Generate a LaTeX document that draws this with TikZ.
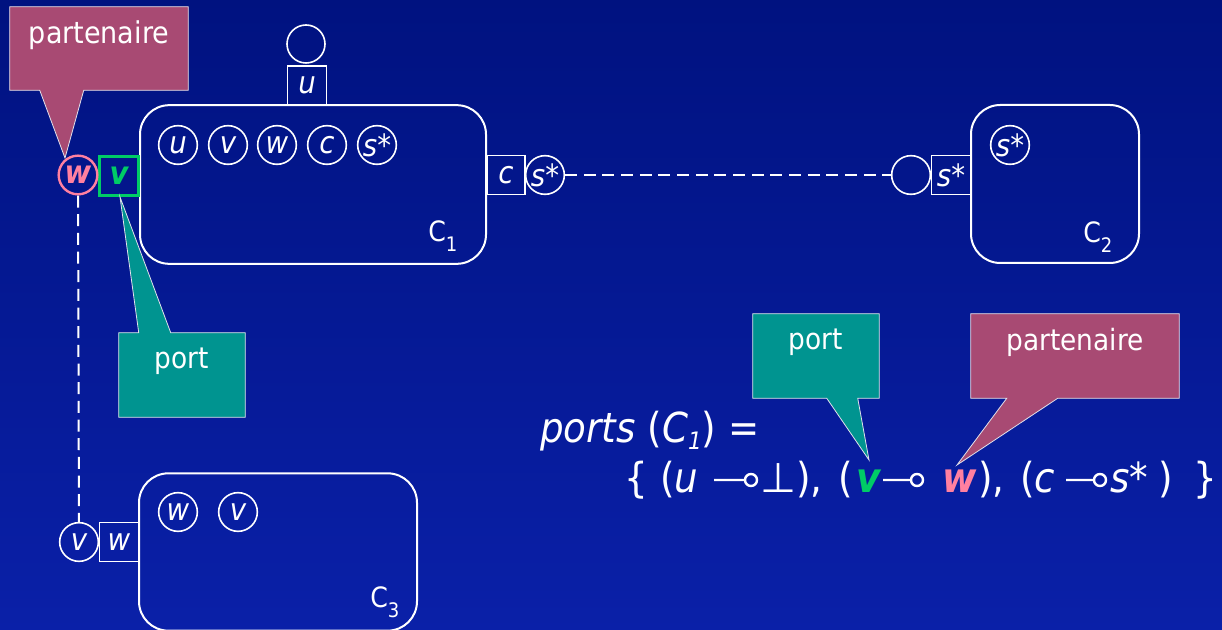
\documentclass[tikz,border=0pt]{standalone}
\usepackage{fontspec}
\setmainfont{DejaVu Sans Condensed}
\newfontfamily\symfont{DejaVu Sans}
\usetikzlibrary{calc}
\definecolor{bgtop}{RGB}{0,18,128}
\definecolor{bgbot}{RGB}{10,32,168}
\definecolor{mauve}{RGB}{168,74,115}
\definecolor{tealc}{RGB}{0,148,144}
\definecolor{pinkc}{RGB}{255,128,160}
\definecolor{greenc}{RGB}{0,204,102}
\definecolor{edgec}{RGB}{225,225,235}
\begin{document}
\begin{tikzpicture}[x=0.75pt,y=-0.75pt,
  comp/.style={draw=white,line width=1.5pt,rounded corners=22pt,inner sep=0pt},
  pcirc/.style={circle,draw=white,line width=1.2pt,minimum size=29pt,inner sep=0pt,text=white,font=\fontsize{23}{23}\selectfont\itshape},
  psq/.style={rectangle,draw=white,line width=1.2pt,minimum width=29pt,minimum height=29.5pt,inner sep=0pt,text=white,font=\fontsize{23}{23}\selectfont\itshape},
  clabel/.style={anchor=base west,text=white,inner sep=0pt,font=\fontsize{21}{21}\selectfont},
  callout/.style={draw=edgec,line width=0.6pt,line join=miter},
  ctext/.style={text=white,inner sep=0pt,font=\fontsize{22}{22}\selectfont},
  ftext/.style={anchor=base west,text=white,inner sep=0pt,font=\fontsize{31}{31}\selectfont},
  mm/.style={draw=white,line width=1.8pt},
  link/.style={draw=white,line width=1.5pt,dash pattern=on 9pt off 5pt}]
\shade[top color=bgtop,bottom color=bgbot] (0,0) rectangle (1222,630);
\useasboundingbox (0,0) rectangle (1222,630);

% components
\node[comp,minimum width=259.5pt,minimum height=119pt] (C1) at (313,184.5) {};
\node[comp,minimum width=126pt,minimum height=118.5pt] (C2) at (1055,184) {};
\node[comp,minimum width=208.5pt,minimum height=118pt] (C3) at (278,552) {};

\node[clabel] (L1) at (428,242) {C\raisebox{-7pt}{\fontsize{15}{15}\selectfont 1}};
\node[clabel] (L2) at (1083,243) {C\raisebox{-7pt}{\fontsize{15}{15}\selectfont 2}};
\node[clabel] (L3) at (370,608) {C\raisebox{-7pt}{\fontsize{15}{15}\selectfont 3}};

% inner services of C1
\node[pcirc] (iu) at (178,145) {u};
\node[pcirc] (iv) at (228,145) {v};
\node[pcirc] (iw) at (277,145) {w};
\node[pcirc] (ic) at (327,145) {c};
\node[pcirc] (is) at (377,145) {s*};
% C2 inner
\node[pcirc] (is2) at (1010,145) {s*};
% C3 inner
\node[pcirc] (iw3) at (178,512) {w};
\node[pcirc] (iv3) at (238,512) {v};

% ports of C1
\node[psq] (pu) at (307,85.5) {u};
\node[pcirc,minimum size=28.5pt] (ou) at (306,44) {};
\node[psq,minimum width=28.5pt] (pc) at (506,175) {c};
\node[pcirc] (os) at (545,175) {s*};
\node[psq,draw=greenc,line width=1.8pt,text=greenc,font=\fontsize{24}{24}\selectfont\bfseries\itshape] (pv) at (119,176) {v};
\node[pcirc,draw=pinkc,line width=1.8pt,text=pinkc,font=\fontsize{24}{24}\selectfont\bfseries\itshape] (ow) at (78,175) {w};
% ports of C2
\node[psq] (ps2) at (951,175) {s*};
\node[pcirc] (oe2) at (911,175) {};
% ports of C3
\node[psq] (pw3) at (119,542) {w};
\node[pcirc] (ov3) at (79,542) {v};

% bindings
\draw[link] (os) -- (oe2);
\draw[link] (ow) -- (ov3);

% callout partenaire (top left)
\node[rectangle,minimum width=133.5pt,minimum height=62.25pt,inner sep=0pt] (cbA) at (99,48.5) {};
\coordinate (tipA) at (65,158);
\draw[callout,fill=mauve] (cbA.north west) -- (cbA.north east) -- (cbA.south east) -- ($(cbA.south west)+(74,0)$) -- (tipA) -- ($(cbA.south west)+(30,0)$) -- (cbA.south west) -- cycle;
\node[ctext,font=\fontsize{22.5}{22.5}\selectfont] (tA) at (99,35) {partenaire};

% callout port (left)
\node[rectangle,minimum width=94.5pt,minimum height=63pt,inner sep=0pt] (cbB) at (182,375) {};
\coordinate (tipB) at (120,197);
\draw[callout,fill=tealc] (cbB.north west) -- ($(cbB.north west)+(20,0)$) -- (tipB) -- ($(cbB.north west)+(52,0)$) -- (cbB.north east) -- (cbB.south east) -- (cbB.south west) -- cycle;
\node[ctext] (tB) at (182,361) {port};

% formula, line 1
\node[ftext] (f1) at (540,443) {\itshape ports\/\upshape{} (\itshape C\raisebox{-5pt}{\fontsize{18}{18}\selectfont 1}\/\upshape) =};
% formula, line 2
\node[ftext] (g1) at (624,493) {\{};
\node[ftext] (g2) at (660,493) {(\itshape u};
\coordinate (m1a) at (714,480); \coordinate (m1b) at (745,480);
\draw[mm] (m1a) -- (m1b) (751,480) circle[radius=4.5pt];
\node[ftext] (g3) at (760,493) {\symfont ⊥};
\node[ftext] (g4) at (796,493) {),};
\node[ftext] (g5) at (838,493) {(};
\node[ftext,text=greenc,font=\fontsize{31}{31}\selectfont\bfseries\itshape] (g6) at (856,493) {v};
\coordinate (m2a) at (883,480); \coordinate (m2b) at (911,480);
\draw[mm] (m2a) -- (m2b) (917,480) circle[radius=4.5pt];
\node[ftext,text=pinkc,font=\fontsize{31}{31}\selectfont\bfseries\itshape] (g7) at (942,493) {w};
\node[ftext] (g8) at (978,493) {),};
\node[ftext] (g9) at (1020,493) {(\itshape c};
\coordinate (m3a) at (1066,480); \coordinate (m3b) at (1094,480);
\draw[mm] (m3a) -- (m3b) (1100,480) circle[radius=4.5pt];
\node[ftext] (g10) at (1110,493) {\itshape s*};
\node[ftext] (g11) at (1158,493) {)};
\node[ftext] (g12) at (1193,493) {\}};

% callout port (right)
\node[rectangle,minimum width=94.5pt,minimum height=63pt,inner sep=0pt] (cbC) at (816,356) {};
\coordinate (tipC) at (869,460);
\draw[callout,fill=tealc] (cbC.north west) -- (cbC.north east) -- (cbC.south east) -- ($(cbC.south west)+(105,0)$) -- (tipC) -- ($(cbC.south west)+(74,0)$) -- (cbC.south west) -- cycle;
\node[ctext] (tC) at (816,342) {port};

% callout partenaire (right)
\node[rectangle,minimum width=156pt,minimum height=63pt,inner sep=0pt] (cbD) at (1075,356) {};
\coordinate (tipD) at (957,465);
\draw[callout,fill=mauve] (cbD.north west) -- (cbD.north east) -- (cbD.south east) -- ($(cbD.south west)+(87,0)$) -- (tipD) -- ($(cbD.south west)+(36,0)$) -- (cbD.south west) -- cycle;
\node[ctext] (tD) at (1075,342) {partenaire};
\end{tikzpicture}
\end{document}
